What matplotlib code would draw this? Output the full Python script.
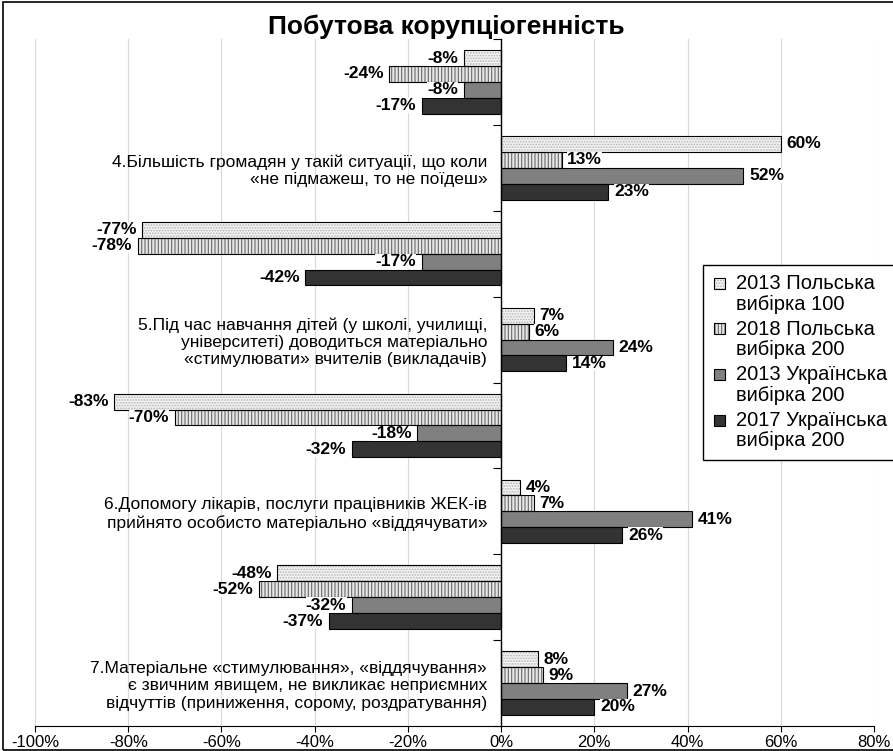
import numpy as np
import matplotlib
matplotlib.use("Agg")
import matplotlib.pyplot as plt
from matplotlib.patches import Rectangle
from matplotlib.legend_handler import HandlerBase

plt.rcParams["font.family"] = ["Liberation Sans", "DejaVu Sans"]
plt.rcParams["hatch.linewidth"] = 0.8

# =========================
# DATA
# =========================
categories = [
    "",
    "4.Більшість громадян у такій ситуації, що коли\n«не підмажеш, то не поїдеш»",
    "",
    "5.Під час навчання дітей (у школі, училищі,\nуніверситеті) доводиться матеріально\n«стимулювати» вчителів (викладачів)",
    "",
    "6.Допомогу лікарів, послуги працівників ЖЕК-ів\nприйнято особисто матеріально «віддячувати»",
    "",
    "7.Матеріальне «стимулювання», «віддячування»\nє звичним явищем, не викликає неприємних\nвідчуттів (приниження, сорому, роздратування)",
]
series_names = [
    "2013 Польська\nвибірка 100",
    "2018 Польська\nвибірка 200",
    "2013 Українська\nвибірка 200",
    "2017 Українська\nвибірка 200",
]
pl_2013 = [-8, 60, -77, 7, -83, 4, -48, 8]
pl_2018 = [-24, 13, -78, 6, -70, 7, -52, 9]
ua_2013 = [-8, 52, -17, 24, -18, 41, -32, 27]
ua_2017 = [-17, 23, -42, 14, -32, 26, -37, 20]
xticks = [-100, -80, -60, -40, -20, 0, 20, 40, 60, 80]

# =========================
# STYLE
# =========================
styles = [
    dict(facecolor="#f2f2f2", hatch="......", hcolor="#b5b5b5"),
    dict(facecolor="#e6e6e6", hatch="|||||", hcolor="#6a6a6a"),
    dict(facecolor="#808080", hatch=None, hcolor="#808080"),
    dict(facecolor="#333333", hatch=None, hcolor="#333333"),
]


class LegendKey:
    def __init__(self, st):
        self.st = st


class SquareTop(HandlerBase):
    # kotak legenda sejajar dengan baris pertama label
    def create_artists(self, legend, orig_handle, xdescent, ydescent,
                       width, height, fontsize, trans):
        st = orig_handle.st
        s = 0.55 * fontsize
        x0 = -xdescent + (width - s) / 2
        y0 = -ydescent + (height - s) / 2 + 0.55 * fontsize
        r1 = Rectangle((x0, y0), s, s, facecolor=st["facecolor"], edgecolor=st["hcolor"],
                       hatch=st["hatch"], linewidth=0, transform=trans)
        r2 = Rectangle((x0, y0), s, s, fill=False, edgecolor="black",
                       linewidth=0.8, transform=trans)
        return [r1, r2]


fig = plt.figure(figsize=(8.93, 7.51), dpi=100)
ax = fig.add_axes([35 / 893, 1 - 726 / 751, (874 - 35) / 893, (726 - 39) / 751])

y = np.arange(len(categories))
h = 0.185
keys = []
for i, vals in enumerate([pl_2013, pl_2018, ua_2013, ua_2017]):
    st = styles[i]
    pos = y + (i - 1.5) * h
    ax.barh(pos, vals, height=h, color=st["facecolor"], edgecolor=st["hcolor"],
            hatch=st["hatch"], linewidth=0, zorder=3)
    ax.barh(pos, vals, height=h, fill=False, edgecolor="black", linewidth=0.8, zorder=4)
    for p, v in zip(pos, vals):
        off = 1.2 if v >= 0 else -1.2
        ax.text(v + off, p, f"{v}%", ha="left" if v >= 0 else "right", va="center",
                fontsize=12.5, fontweight="bold", zorder=5,
                bbox=dict(facecolor="white", edgecolor="none", pad=0.1))
    keys.append(LegendKey(st))

ax.set_xlim(-100, 80)
ax.set_ylim(len(categories) - 0.5, -0.5)

ax.tick_params(axis="x", length=4.5, width=0.8, direction="out", pad=2, labelsize=12)
ax.tick_params(axis="y", which="major", length=0, pad=10, labelsize=12.5)
ax.tick_params(axis="y", which="minor", length=6, width=0.8, direction="out")

ax.set_xticks(xticks)
ax.set_xticklabels([f"{t}%" for t in xticks])
ax.set_yticks(np.arange(-0.5, len(categories), 1), minor=True)
ax.set_yticks(y)
ax.set_yticklabels(categories, fontsize=12.5, multialignment="center")

ax.spines["left"].set_position(("data", 0))
ax.spines["left"].set_zorder(6)
ax.spines["right"].set_visible(False)
ax.spines["top"].set_visible(False)
ax.spines["bottom"].set_linewidth(0.8)
ax.spines["left"].set_linewidth(1.0)
ax.grid(axis="x", color="#d9d9d9", linewidth=0.8, zorder=0)
ax.set_axisbelow(True)

fig.text(0.5, 1 - 27 / 751, "Побутова корупціогенність", ha="center", va="center",
         fontsize=19, fontweight="bold")

leg = fig.legend(keys, series_names, handler_map={LegendKey: SquareTop()},
                 loc="upper left",
                 bbox_to_anchor=(703 / 893, 1 - 265 / 751), bbox_transform=fig.transFigure,
                 fontsize=14.5, frameon=True, fancybox=False, framealpha=1,
                 handlelength=0.7, handleheight=0.7, handletextpad=0.5,
                 labelspacing=0.3, borderpad=0.45, borderaxespad=0)
for t in leg.get_texts():
    t.set_linespacing(1.1)
leg.get_frame().set_edgecolor("black")
leg.get_frame().set_linewidth(1.0)

fig.patches.append(Rectangle((0.003, 0.001), 1.2, 0.997, transform=fig.transFigure,
                             fill=False, edgecolor="black", linewidth=1.2))

fig.savefig("out.png", dpi=100)
